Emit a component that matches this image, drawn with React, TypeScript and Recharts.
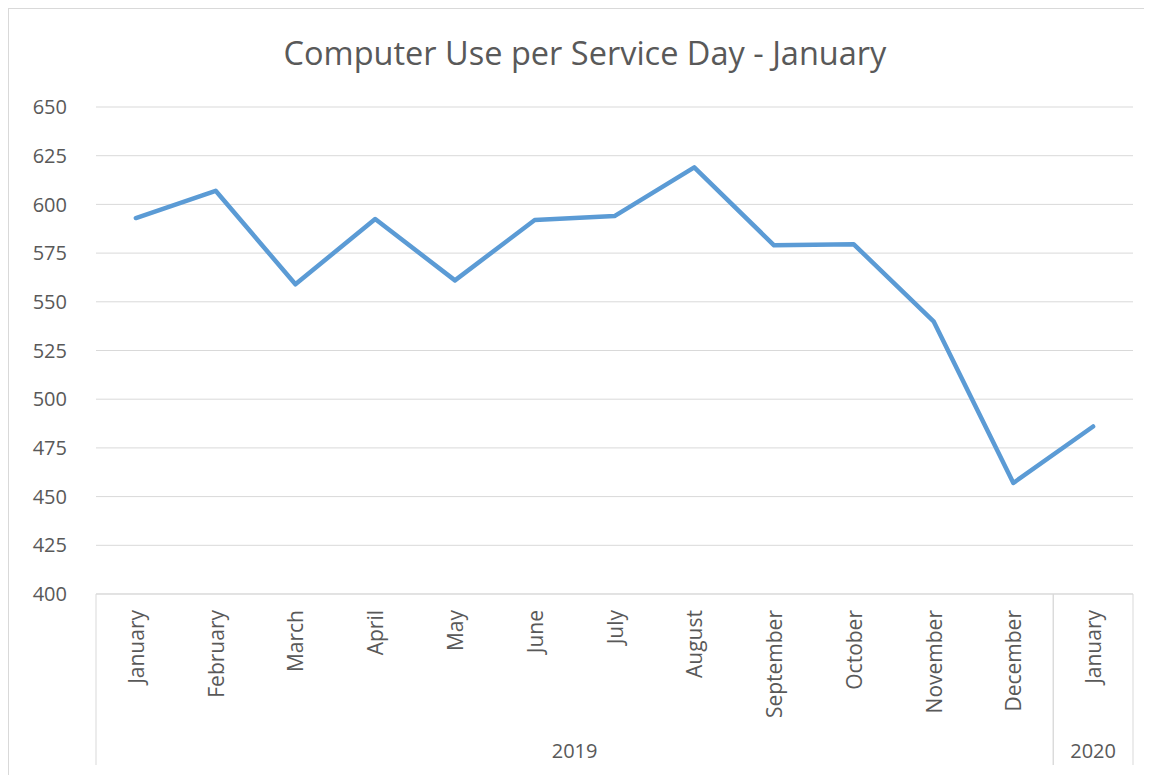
import { LineChart, Line, XAxis, YAxis, CartesianGrid } from 'recharts';

const months = [
  'January', 'February', 'March', 'April', 'May', 'June',
  'July', 'August', 'September', 'October', 'November', 'December', 'January',
];
const years = [
  '2019', '2019', '2019', '2019', '2019', '2019',
  '2019', '2019', '2019', '2019', '2019', '2019', '2020',
];
const usage = [593, 607, 559, 592.5, 561, 592, 594, 619, 579, 579.5, 540, 457, 486];
const yTicks = [400, 425, 450, 475, 500, 525, 550, 575, 600, 625, 650];

const data = months.map((m, i) => ({ month: m, year: years[i], usage: usage[i] }));

const CHART_W = 1143;
const CHART_H = 766;
const MARGIN = { top: 98, right: 19, bottom: 0, left: 0 };
const Y_W = 87;
const X_H = 181;
const plotW = CHART_W - MARGIN.left - MARGIN.right - Y_W;
const band = plotW / months.length;

const gray = '#d9d9d9';
const textColor = '#595959';
const font = '"Open Sans", sans-serif';

// month labels + year group labels and separators under the axis
function MonthTick(props: any) {
  const { x, y, payload } = props;
  const i: number = props.index ?? payload.index;
  const yr = years[i];
  const first = years.indexOf(yr);
  const last = years.lastIndexOf(yr);
  const lineBottom = y + 171;
  return (
    <g>
      <text
        x={x}
        y={y + 16}
        transform={`rotate(-90, ${x}, ${y + 16})`}
        textAnchor="end"
        dominantBaseline="central"
        fontSize={21}
        fontFamily={font}
        fill={textColor}
      >
        {payload.value}
      </text>
      {i === first && (
        <line x1={x - band / 2} x2={x - band / 2} y1={y} y2={lineBottom} stroke={gray} />
      )}
      {i === last && (
        <line x1={x + band / 2} x2={x + band / 2} y1={y} y2={lineBottom} stroke={gray} />
      )}
      {i === first && (
        <text
          x={x + ((last - first) / 2) * band}
          y={y + 156}
          textAnchor="middle"
          dominantBaseline="central"
          fontSize={20}
          fontFamily={font}
          fill={textColor}
        >
          {yr}
        </text>
      )}
    </g>
  );
}

export default function App() {
  return (
    <div
      style={{
        position: 'relative',
        width: 1143,
        height: 766,
        overflow: 'hidden',
        borderTop: `1px solid ${gray}`,
        borderLeft: `1px solid ${gray}`,
        background: '#fff',
      }}
    >
      <style>{`html,body{overflow:hidden}`}</style>
      <div
        style={{
          position: 'absolute',
          left: 176,
          top: 23,
          width: 800,
          textAlign: 'center',
          fontFamily: font,
          fontSize: 32.5,
          lineHeight: '42px',
          color: textColor,
        }}
      >
        Computer Use per Service Day - January
      </div>
      <LineChart width={CHART_W} height={CHART_H} data={data} margin={MARGIN}>
        <CartesianGrid vertical={false} stroke={gray} />
        <XAxis
          dataKey="month"
          padding={{ left: band / 2, right: band / 2 }}
          height={X_H}
          axisLine={{ stroke: gray }}
          tickLine={false}
          tickSize={0}
          tickMargin={0}
          interval={0}
          tick={<MonthTick />}
        />
        <YAxis
          width={Y_W}
          domain={[400, 650]}
          ticks={yTicks}
          axisLine={false}
          tickLine={false}
          tickSize={0}
          tickMargin={29}
          tick={{ fontSize: 20, fontFamily: font, fill: textColor }}
        />
        <Line
          type="linear"
          dataKey="usage"
          stroke="#5b9bd5"
          strokeWidth={4.5}
          strokeLinejoin="round"
          strokeLinecap="round"
          dot={false}
          activeDot={false}
          isAnimationActive={false}
        />
      </LineChart>
    </div>
  );
}
